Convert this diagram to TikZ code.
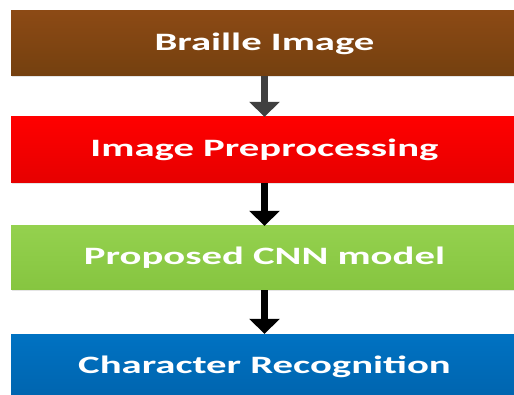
\documentclass[tikz,border=0pt]{standalone}
\usepackage{fontspec}
\setmainfont{Carlito}
\usetikzlibrary{arrows.meta,shadows}

\definecolor{brownTop}{HTML}{8C4A15}
\definecolor{brownBot}{HTML}{74400F}
\definecolor{redTop}{HTML}{FF0000}
\definecolor{redBot}{HTML}{E60000}
\definecolor{greenTop}{HTML}{94D14E}
\definecolor{greenBot}{HTML}{86C540}
\definecolor{blueTop}{HTML}{0072C2}
\definecolor{blueBot}{HTML}{0064AE}
\definecolor{arrowGray}{HTML}{404040}

\tikzset{
  stagebox/.style={rectangle, inner sep=0pt, minimum width=507pt,
    minimum height=#1, text=white, font=\fontsize{25}{28}\selectfont\bfseries,
    drop shadow={opacity=0.2, shadow xshift=0.8pt, shadow yshift=-1.5pt}},
  flow/.style={line width=7pt, -{Triangle[width=30pt,length=15pt]}},
}
\newcommand{\wide}[1]{\scalebox{1.63}[1]{#1}}

\begin{document}
\begin{tikzpicture}[x=1pt,y=-1pt]
  \useasboundingbox (0,0) rectangle (514,395);
  \fill[white] (0,0) rectangle (514,395);

  \begin{scope}
    \clip (0,0) rectangle (514,395);
    \node[stagebox=65pt, top color=brownTop, bottom color=brownBot]
      (braille) at (264.5,43.5) {\wide{Braille Image}};
    \node[stagebox=66pt, top color=redTop, bottom color=redBot]
      (prep) at (264.5,150) {\wide{Image Preprocessing}};
    \node[stagebox=64pt, top color=greenTop, bottom color=greenBot]
      (cnn) at (264.5,258) {\wide{Proposed CNN model}};
    \node[stagebox=66pt, top color=blueTop, bottom color=blueBot]
      (recog) at (264.5,367) {\wide{Character Recognition}};
  \end{scope}

  \draw[flow, arrowGray] (braille.south) -- (prep.north);
  \draw[flow, black] (prep.south) -- (cnn.north);
  \draw[flow, black] (cnn.south) -- (recog.north);
\end{tikzpicture}
\end{document}
